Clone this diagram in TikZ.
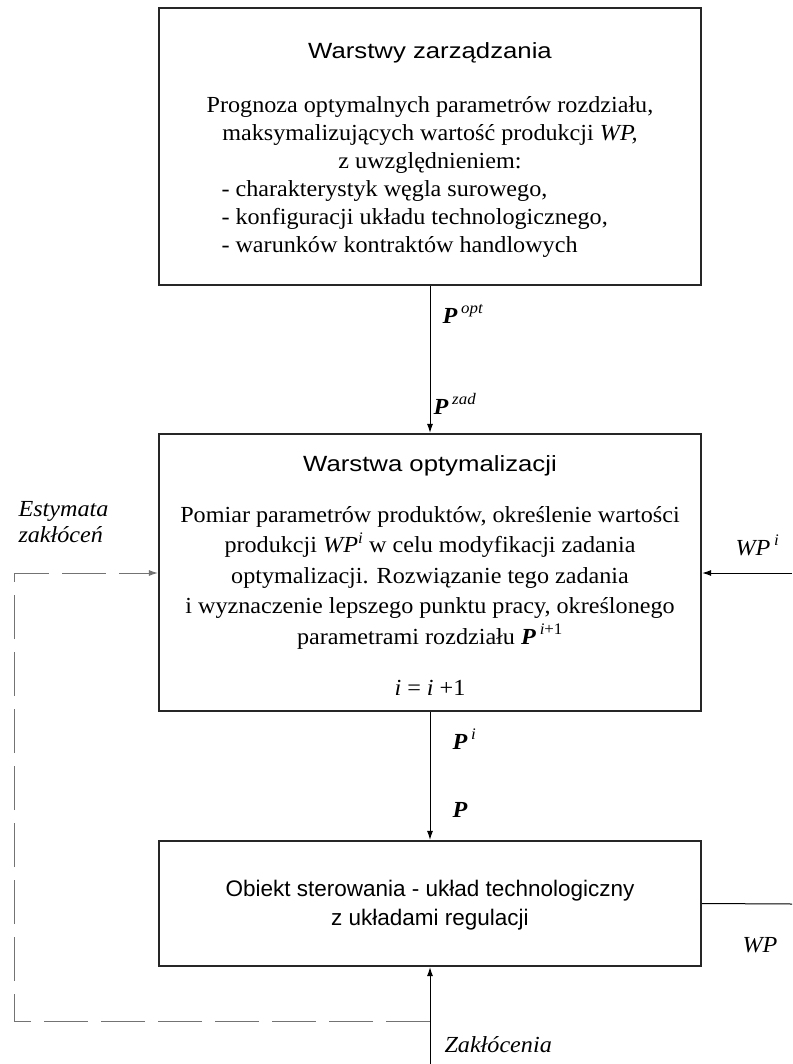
\documentclass[tikz,border=0pt]{standalone}
\usepackage{fontspec}
\setmainfont{Liberation Serif}[FakeStretch=1.05]
\newfontfamily\tytul{Liberation Sans}[FakeStretch=1.17]
\newfontfamily\sans{Liberation Sans}
\usetikzlibrary{arrows.meta}

\newcommand{\wektorP}{\textbf{\textit{P}}}

\begin{document}
\begin{tikzpicture}[x=1pt,y=-1pt,line width=1pt,>={Latex[length=9pt,width=6pt]}]
  \useasboundingbox (0,0) rectangle (792,1064);
  \tikzset{blok/.style={draw=black!85,line width=2.2pt,minimum width=542pt,inner sep=0pt},
    naglowek/.style={font=\tytul\fontsize{22}{29}\selectfont,anchor=base,inner sep=0pt},
    opis/.style={font=\fontsize{23}{28}\selectfont,align=center,anchor=base,inner sep=0pt},
    etykieta/.style={font=\fontsize{23}{26}\selectfont,anchor=base west,inner sep=0pt}}
  % bloki
  \node[blok,minimum height=277pt] (zarz) at (430,146.5) {};
  \node[blok,minimum height=277pt] (optym) at (430,572.5) {};
  \node[blok,minimum height=125pt] (obiekt) at (430,903.5) {};
  % warstwa zarzadzania (kotwica base = ostatnia linia)
  \node[naglowek] (tzarz) at (430,59) {Warstwy zarządzania};
  \node[opis] (ozarz) at (430,169) {Prognoza optymalnych parametrów rozdziału,\\
    maksymalizujących wartość produkcji \textit{WP,}\\ z uwzględnieniem:};
  \node[opis,align=left,anchor=base west] (lista) at (221,253) {- charakterystyk węgla surowego,\\
    - konfiguracji układu technologicznego,\\ - warunków kontraktów handlowych};
  % warstwa optymalizacji
  \node[naglowek] (toptym) at (430,471) {Warstwa optymalizacji};
  \node[opis,font=\fontsize{23}{30.5}\selectfont] (ooptym) at (430,644) {Pomiar parametrów produktów, określenie wartości\\
    produkcji \textit{WP\textsuperscript{i}} w celu modyfikacji zadania\\
    optymalizacji. Rozwiązanie tego zadania\\
    i wyznaczenie lepszego punktu pracy, określonego\\
    parametrami rozdziału \wektorP\,\textsuperscript{\textit{i}+1}};
  \node[opis] (iter) at (430,695) {\textit{i} = \textit{i} +1};
  % obiekt
  \node[naglowek,align=center,font=\sans\fontsize{22.5}{29}\selectfont] (tobiekt) at (430,925)
    {Obiekt sterowania - układ technologiczny\\ z układami regulacji};
  % polaczenia
  \draw[->] (zarz.south) -- (optym.north);
  \draw[->] (optym.south) -- (obiekt.north);
  \coordinate (zakl) at (430,1064);
  \draw[->] (zakl) -- (obiekt.south);
  \coordinate (wpi) at (792,573);
  \draw[->] (wpi) -- (optym.east |- wpi);
  \coordinate (wp) at (792,904);
  \draw (obiekt.east) -- (wp);
  % estymata zaklocen (przerywana)
  \coordinate (rogD) at (14,1021); \coordinate (rogG) at (14,573);
  \draw[->,black!55,dash pattern=on 44pt off 13pt] (zakl |- rogD) -- (rogD) -- (rogG) -- (optym.west |- rogG);
  % etykiety
  \node[etykieta] (popt) at (442,323) {\wektorP\,\textsuperscript{\textit{opt}}};
  \node[etykieta] (pzad) at (433,414) {\wektorP\,\textsuperscript{\textit{zad}}};
  \node[etykieta] (pi) at (452,749) {\wektorP\,\textsuperscript{\textit{i}}};
  \node[etykieta] (p) at (452,817) {\wektorP};
  \node[etykieta,align=left] (est) at (18,542) {\textit{Estymata}\\ \textit{zakłóceń}};
  \node[etykieta] (lwpi) at (735,555) {\textit{WP\,\textsuperscript{i}}};
  \node[etykieta] (lwp) at (742,952) {\textit{WP}};
  \node[etykieta] (lzakl) at (444,1052) {\textit{Zakłócenia}};
\end{tikzpicture}
\end{document}
